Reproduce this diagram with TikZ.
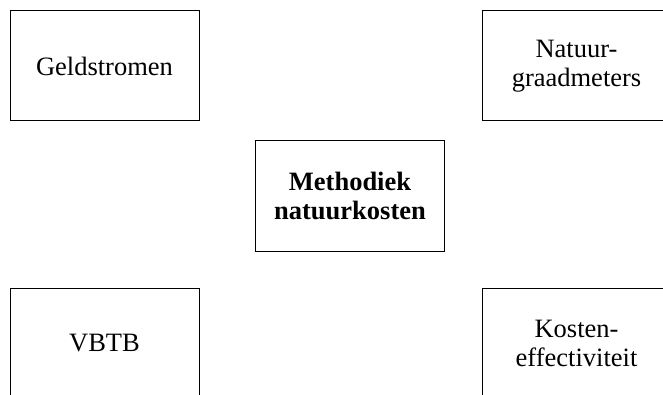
\documentclass[tikz,border=0pt]{standalone}
\usepackage{fontspec}
\setmainfont{Liberation Serif}
\begin{document}
\begin{tikzpicture}[x=1pt,y=1pt,
  boxnode/.style={draw=black, line width=1pt, minimum width=189pt, minimum height=110pt,
    inner sep=0pt, align=center, font=\fontsize{26.5}{29}\selectfont}]
\useasboundingbox (0,0) rectangle (663,394);
\clip (0,0) rectangle (663,394);
\node[boxnode] (geld) at (104.5,328) {Geldstromen};
\node[boxnode] (natuur) at (576.5,328) {Natuur-\\graadmeters};
\node[boxnode, font=\fontsize{26.5}{29}\selectfont\bfseries] (methodiek) at (350,198) {Methodiek\\natuurkosten};
\node[boxnode] (vbtb) at (104.5,51) {VBTB};
\node[boxnode] (kosten) at (576.5,51) {Kosten-\\effectiviteit};
\end{tikzpicture}
\end{document}
